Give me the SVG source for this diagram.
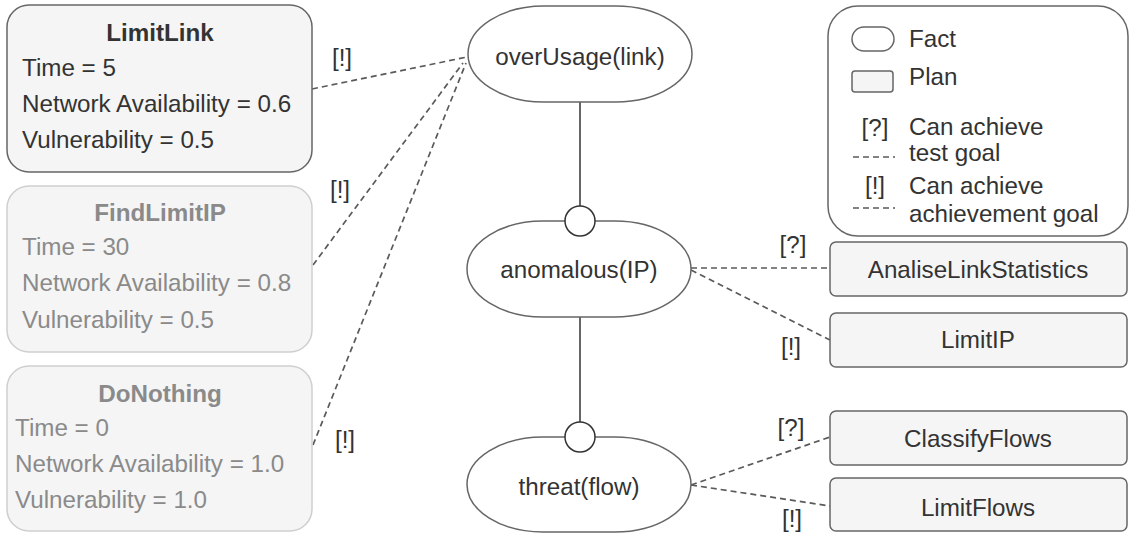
<svg xmlns="http://www.w3.org/2000/svg" width="1130" height="533" viewBox="0 0 1130 533">
  <style>
    text { font-family: "Liberation Sans", Arial, sans-serif; font-size: 24.2px; fill: #333; }
    .c { text-anchor: middle; }
    .b { font-weight: bold; }
    .dim text { fill: #8a8a8a; }
    .plan { fill: #f5f5f5; stroke: #666; stroke-width: 1.5; }
    .plan-dim { fill: #f5f5f5; stroke: #cfcfcf; stroke-width: 1.5; }
    .fact { fill: #fff; stroke: #666; stroke-width: 1.5; }
    .knob { fill: #fff; stroke: #333; stroke-width: 1.5; }
    .solid { stroke: #333; stroke-width: 1.5; fill: none; }
    .dash { stroke: #5a5a5a; stroke-width: 1.7; fill: none; stroke-dasharray: 6 4; }
  </style>

  <!-- connectors -->
  <g id="connectors">
    <line class="solid" x1="580" y1="102" x2="580" y2="221"/>
    <line class="solid" x1="580" y1="317" x2="580" y2="437"/>
    <line class="dash" x1="312" y1="89" x2="467" y2="57"/>
    <line class="dash" x1="313" y1="265" x2="463" y2="63"/>
    <line class="dash" x1="313" y1="445" x2="466" y2="63"/>
    <line class="dash" x1="691" y1="268" x2="830" y2="268"/>
    <line class="dash" x1="691" y1="270" x2="830" y2="340"/>
    <line class="dash" x1="691" y1="485" x2="830" y2="437"/>
    <line class="dash" x1="691" y1="485" x2="830" y2="506"/>
    <text class="c" x="342" y="66">[!]</text>
    <text class="c" x="340" y="198">[!]</text>
    <text class="c" x="345" y="448">[!]</text>
    <text class="c" x="793" y="253">[?]</text>
    <text class="c" x="791" y="355">[!]</text>
    <text class="c" x="791" y="436">[?]</text>
    <text class="c" x="792" y="527">[!]</text>
  </g>

  <!-- plan cards on the left -->
  <g id="plan-limitlink">
    <rect class="plan" x="7" y="5" width="305" height="167" rx="22"/>
    <text class="c b" x="160" y="41">LimitLink</text>
    <text x="22" y="76">Time = 5</text>
    <text x="22" y="112">Network Availability = 0.6</text>
    <text x="22" y="148">Vulnerability = 0.5</text>
  </g>
  <g id="plan-findlimitip" class="dim">
    <rect class="plan-dim" x="7" y="186" width="305" height="166" rx="22"/>
    <text class="c b" x="160" y="221">FindLimitIP</text>
    <text x="22" y="255">Time = 30</text>
    <text x="22" y="291">Network Availability = 0.8</text>
    <text x="22" y="328">Vulnerability = 0.5</text>
  </g>
  <g id="plan-donothing" class="dim">
    <rect class="plan-dim" x="7" y="366" width="305" height="165" rx="22"/>
    <text class="c b" x="160" y="402">DoNothing</text>
    <text x="15" y="436">Time = 0</text>
    <text x="15" y="472">Network Availability = 1.0</text>
    <text x="15" y="508">Vulnerability = 1.0</text>
  </g>

  <!-- facts -->
  <g id="fact-overusage">
    <rect class="fact" x="468" y="6" width="224" height="96" rx="76" ry="48"/>
    <text class="c" x="580" y="65">overUsage(link)</text>
  </g>
  <g id="fact-anomalous">
    <rect class="fact" x="467" y="221" width="224" height="96" rx="76" ry="48"/>
    <circle class="knob" cx="580" cy="221" r="15"/>
    <text class="c" x="579" y="278">anomalous(IP)</text>
  </g>
  <g id="fact-threat">
    <rect class="fact" x="467" y="437" width="224" height="95" rx="76" ry="48"/>
    <circle class="knob" cx="580" cy="437" r="15"/>
    <text class="c" x="579" y="495">threat(flow)</text>
  </g>

  <!-- plans on the right -->
  <g id="plan-analiselinkstatistics">
    <rect class="plan" x="830" y="242" width="297" height="54" rx="6"/>
    <text class="c" x="978" y="278">AnaliseLinkStatistics</text>
  </g>
  <g id="plan-limitip">
    <rect class="plan" x="830" y="313" width="297" height="54" rx="6"/>
    <text class="c" x="978" y="348">LimitIP</text>
  </g>
  <g id="plan-classifyflows">
    <rect class="plan" x="830" y="411" width="297" height="54" rx="6"/>
    <text class="c" x="978" y="447">ClassifyFlows</text>
  </g>
  <g id="plan-limitflows">
    <rect class="plan" x="830" y="478" width="297" height="53" rx="6"/>
    <text class="c" x="978" y="516">LimitFlows</text>
  </g>

  <!-- legend -->
  <g id="legend">
    <rect x="828" y="6" width="300" height="230" rx="30" fill="#fff" stroke="#666" stroke-width="1.5"/>
    <rect x="852" y="27" width="42" height="24" rx="12" fill="#fff" stroke="#666" stroke-width="1.5"/>
    <text x="909" y="47">Fact</text>
    <rect x="852" y="71" width="41" height="21" rx="3" fill="#f5f5f5" stroke="#666" stroke-width="1.5"/>
    <text x="909" y="85">Plan</text>
    <text class="c" x="875" y="136">[?]</text>
    <line class="dash" x1="853" y1="157" x2="895" y2="157"/>
    <text x="909" y="135">Can achieve</text>
    <text x="909" y="161">test goal</text>
    <text class="c" x="875" y="194">[!]</text>
    <line class="dash" x1="853" y1="208" x2="895" y2="208"/>
    <text x="909" y="194">Can achieve</text>
    <text x="909" y="222">achievement goal</text>
  </g>
</svg>
